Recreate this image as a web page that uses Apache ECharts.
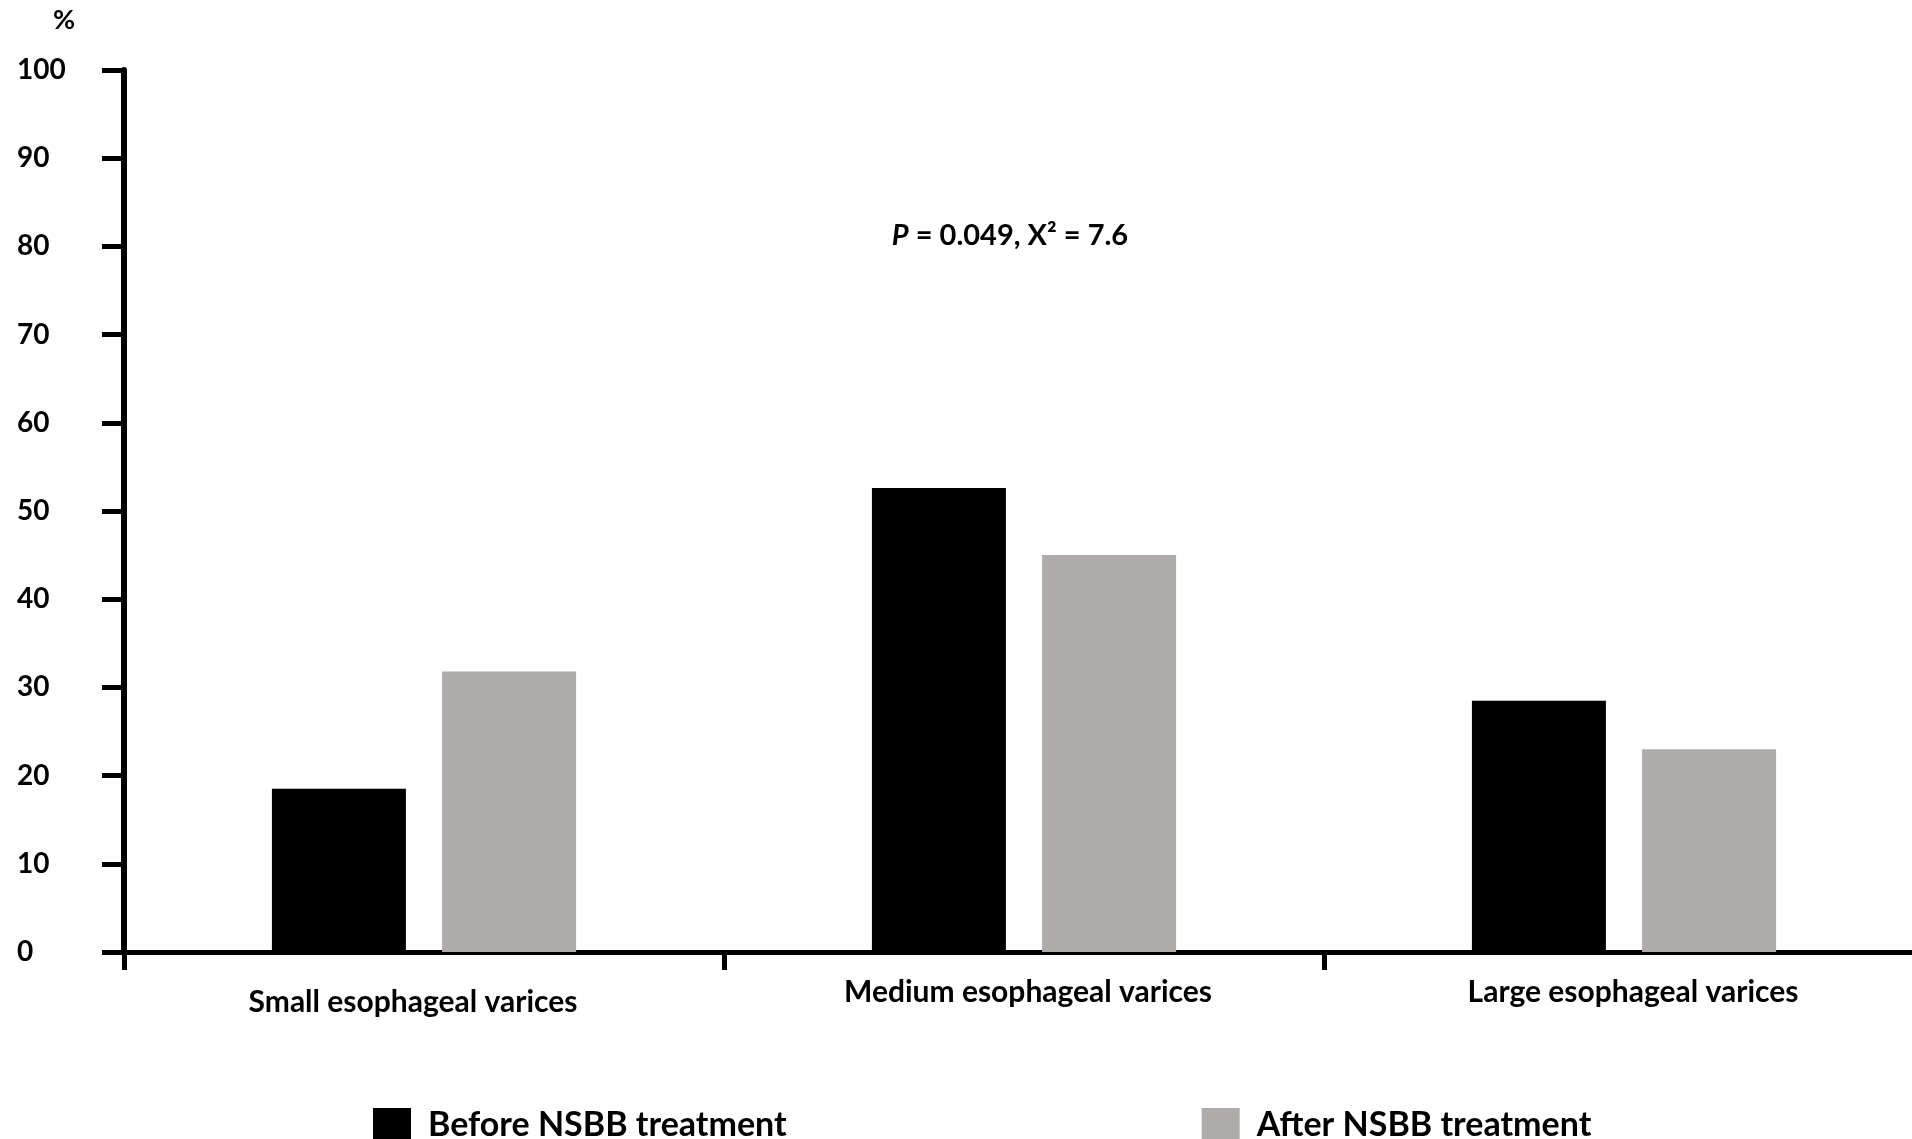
<!DOCTYPE html>
<html>
<head>
<meta charset="utf-8">
<script src="https://cdn.jsdelivr.net/npm/echarts@6/dist/echarts.min.js"></script>
<style>
html,body{margin:0;padding:0;background:#fff;}
#chart{width:1912px;height:1139px;}
</style>
</head>
<body>
<div id="chart"></div>
<script>
const categories = ['Small esophageal varices', 'Medium esophageal varices', 'Large esophageal varices'];
const seriesNames = ['Before NSBB treatment', 'After NSBB treatment'];
const beforeValues = [18.5, 52.6, 28.5];
const afterValues = [31.8, 45.0, 23.0];
const yTicks = [0, 10, 20, 30, 40, 50, 60, 70, 80, 90, 100];

const FONT = 'Lato';
const labelPads = [[10, 22, 0, 0], [0, 0, 0, 8], [0, 0, 0, 18]];
const chart = echarts.init(document.getElementById('chart'));
chart.setOption({
  animation: false,
  backgroundColor: '#ffffff',
  textStyle: { fontFamily: FONT },
  title: {
    text: '{i|P} = 0.049, X² = 7.6',
    left: 1005,
    top: 216,
    textAlign: 'center',
    textStyle: {
      fontFamily: FONT, fontSize: 29, fontWeight: 'bold', color: '#000',
      rich: { i: { fontFamily: FONT, fontSize: 29, fontWeight: 'bold', fontStyle: 'italic', color: '#000' } }
    }
  },
  legend: {
    data: seriesNames,
    left: 368,
    top: 1103,
    itemWidth: 38,
    itemHeight: 34,
    itemGap: 415,
    icon: 'rect',
    textStyle: { fontFamily: FONT, fontSize: 34, fontWeight: 'bold', color: '#000', padding: [0, 0, 0, 12] }
  },
  grid: { left: 124, top: 70, width: 1800, height: 882, containLabel: false, outerBoundsMode: 'none' },
  xAxis: {
    type: 'category',
    data: categories.map((c, i) => ({ value: c, textStyle: { padding: labelPads[i] } })),
    axisLine: { lineStyle: { color: '#000', width: 5 } },
    axisTick: { show: true, length: 18, lineStyle: { color: '#000', width: 5 } },
    axisLabel: { margin: 25, fontFamily: FONT, fontSize: 30, fontWeight: 'bold', color: '#000', interval: 0 }
  },
  yAxis: {
    type: 'value',
    min: yTicks[0],
    max: yTicks[yTicks.length - 1],
    interval: 10,
    name: '%',
    nameLocation: 'end',
    nameGap: 36,
    nameTextStyle: { fontFamily: FONT, fontSize: 27, fontWeight: 'bold', color: '#000', align: 'center', padding: [0, 120, 0, 0] },
    axisLine: { show: true, lineStyle: { color: '#000', width: 6 } },
    axisTick: { show: true, length: 22, lineStyle: { color: '#000', width: 5 } },
    splitLine: { show: false },
    axisLabel: { align: 'left', margin: 107, fontFamily: FONT, fontSize: 28, fontWeight: 'bold', color: '#000' }
  },
  series: [
    { name: seriesNames[0], type: 'bar', data: beforeValues, barWidth: 134, barGap: '27%', itemStyle: { color: '#000000' } },
    { name: seriesNames[1], type: 'bar', data: afterValues, barWidth: 134, itemStyle: { color: '#afabaa' } }
  ]
});
</script>
</body>
</html>
